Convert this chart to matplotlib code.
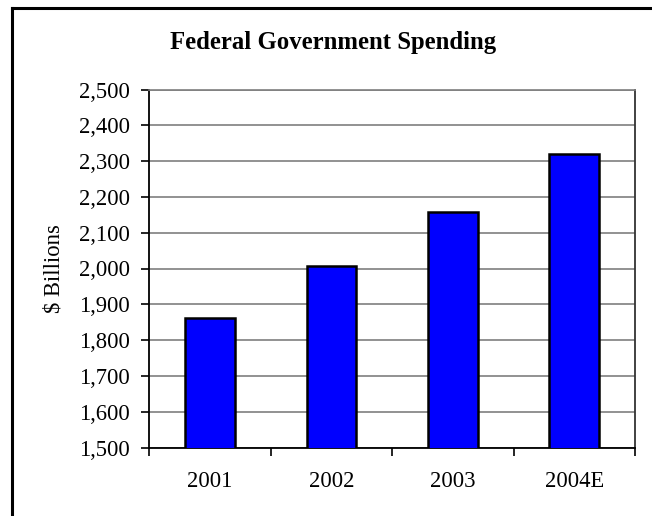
import matplotlib
matplotlib.use("Agg")
import matplotlib.pyplot as plt
from matplotlib.lines import Line2D
from matplotlib.ticker import FuncFormatter, FixedLocator

categories = ["2001", "2002", "2003", "2004E"]
spending = [1863, 2007, 2158, 2319]
y_ticks = [1500, 1600, 1700, 1800, 1900, 2000, 2100, 2200, 2300, 2400, 2500]

W, H = 652, 516
fig = plt.figure(figsize=(W / 100, H / 100), dpi=100)
plt.rcParams['font.family'] = ['Liberation Serif', 'DejaVu Serif']

ax = fig.add_axes([149.3 / W, 1 - 447.5 / H, (635 - 149.3) / W, (447.5 - 89.5) / H])
x = list(range(len(categories)))
ax.bar(x, spending, width=0.41, color="#0000FF", edgecolor="black", linewidth=1.8,
       zorder=3)
ax.set_ylim(1500, 2500)
ax.set_xlim(-0.5, len(categories) - 0.5)
ax.set_yticks(y_ticks)
ax.yaxis.set_major_formatter(FuncFormatter(lambda v, p: f"{int(v):,}"))
ax.yaxis.grid(True, color="#7f7f7f", linewidth=1.2, zorder=0)
ax.set_axisbelow(True)

ax.set_xticks(x)
ax.set_xticklabels(categories)
ax.xaxis.set_minor_locator(FixedLocator([i - 0.5 for i in range(len(categories) + 1)]))
ax.tick_params(axis="x", which="major", length=0, pad=17, labelsize=16.3)
ax.tick_params(axis="x", which="minor", length=6, width=1.2, direction="out")
ax.tick_params(axis="y", length=6, width=1.2, direction="out", pad=8, labelsize=16.3)

for s in ["left", "bottom"]:
    ax.spines[s].set_color("black")
    ax.spines[s].set_linewidth(1.3)
ax.spines["top"].set_color("#7f7f7f")
ax.spines["top"].set_linewidth(1.2)
ax.spines["right"].set_color("#333333")
ax.spines["right"].set_linewidth(1.3)

ax.set_ylabel("$ Billions", fontsize=16.3, labelpad=10)

fig.text(333.5 / W, 1 - 43 / H, "Federal Government Spending", ha="center", va="center",
         fontsize=17.8, fontweight="bold")

# outer chart frame (left and top visible)
fig.add_artist(Line2D([12 / W, 12 / W], [0, 1 - 8 / H], color="black", linewidth=2.2,
                      transform=fig.transFigure))
fig.add_artist(Line2D([12 / W, 1], [1 - 8 / H, 1 - 8 / H], color="black", linewidth=2.2,
                      transform=fig.transFigure))

fig.savefig("out.png", dpi=100, facecolor="white")
